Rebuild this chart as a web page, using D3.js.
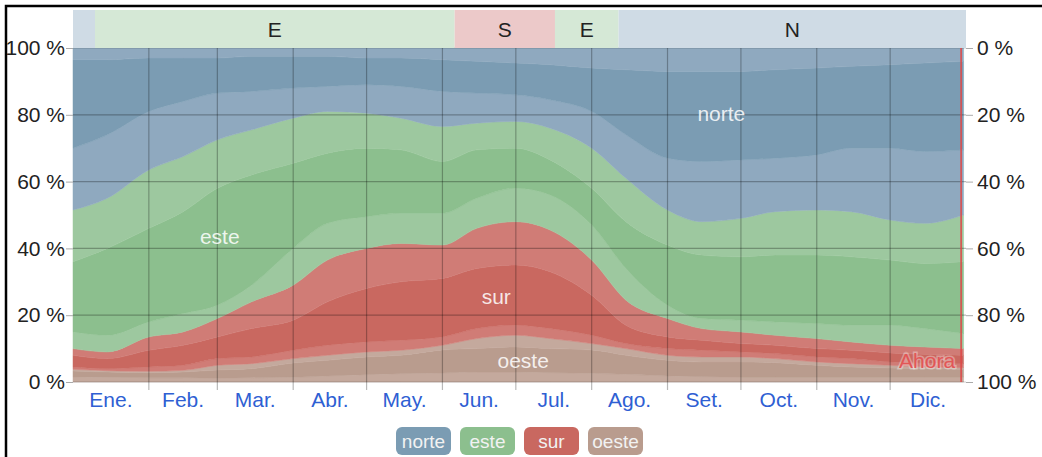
<!DOCTYPE html>
<html>
<head>
<meta charset="utf-8">
<script src="https://cdnjs.cloudflare.com/ajax/libs/d3/7.8.5/d3.min.js"></script>
<style>
  body { margin: 0; background: #fff; }
  svg { display: block; font-family: 'Liberation Sans', Arial, sans-serif; }
</style>
</head>
<body>
<div id="chart"></div>
<script>
// sample days: 1st and 15th of each month, plus Dec 31
const fechas = [
  '2023-01-01','2023-01-15','2023-02-01','2023-02-15','2023-03-01','2023-03-15',
  '2023-04-01','2023-04-15','2023-05-01','2023-05-15','2023-06-01','2023-06-15',
  '2023-07-01','2023-07-15','2023-08-01','2023-08-15','2023-09-01','2023-09-15',
  '2023-10-01','2023-10-15','2023-11-01','2023-11-15','2023-12-01','2023-12-15','2023-12-31'
];

// % of hours per direction (bottom -> top). the intermediate directions
// (NO, SO, SE, NE) are split in a half on each side of the boundary
const noroesteBajo = [1.5,1.4,1.3,1.3,1.2,1.3,1.4,1.8,2.2,2.5,2.7,3,3,2.8,2.6,2.3,1.8,1.6,1.5,1.5,1.5,1.5,1.5,1.5,1.5];
const oeste        = [1.8,1.6,1.5,1.7,2.4,2.7,4.3,4.7,5.3,5.5,6.9,7,7.5,7.2,7,5.7,4.7,4.4,4.5,4.3,3.5,3,2.7,2.5,2.3];
const suroesteO    = [0.5,0.4,0.4,0.5,1.4,1.5,1.3,1.5,1.5,1.5,1.4,3,3.5,3,1.9,2,1.5,1.5,1.5,1.2,1,1,0.8,0.5,0.5];
const suroesteS    = [0.7,0.6,1.3,1.5,2,2,2.5,3,3,3,2.5,3,3,3,2.5,1.5,2,2,1.5,1.5,1.5,1.5,1,1.2,1.2];
const sur          = [3.5,3,5,6,6.5,8.5,9,13,16,17.5,17.5,18,18,17,12,5.5,3.5,3,2.5,2.5,2.5,2.5,2.7,2.6,2.5];
const suresteS     = [2,2,4,4,5.5,8,10.5,12.5,12,11.5,10,12,13,12.5,10.5,7.5,5.5,3.5,3.5,3,3,2.5,2.3,2.2,2];
const suresteE     = [5,5,4.5,5.5,4,5,11,11,9.5,9,9.5,9,10,10.5,10.5,9.5,4,3,3.5,4,4.5,5,6,5.5,4.5];
const este         = [21,26,28,30.5,35,33,25.5,21,20.5,19,15.5,14.5,12,10.5,11,14,18,19,19,20,20.5,20.5,19.5,19.5,21.5];
const noresteE     = [15.5,15,17.5,16.5,14.5,13.5,13.5,12.5,10.5,9.5,10.5,8,8,9.5,12,13,10.5,10,11.5,13,13.5,13.5,12,12,14];
const noresteN     = [18.5,19,17.5,16.5,14,11.5,9,7.5,8.5,9.5,10.5,9,8,8.5,11,13,15.5,18,17.5,16,16.5,19,21.5,21.5,19.5];
const norte        = [26.5,22.5,16,13,10.5,10.5,9.5,9,8,8.5,9.5,9.5,9.5,10.5,13,19.5,26,27,26.5,26.5,26,24.5,25,26.5,26.5];
const noroesteAlto = [3.5,3.5,3,3,3,2.5,2.5,2.5,3,3,3.5,4,4.5,5,6,6.5,7,7,7,6.5,6,5.5,5,4.5,4];

// dominant direction strip on top
const dominante = [
  { desde: '2023-01-01', hasta: '2023-01-10', dir: 'N' },
  { desde: '2023-01-10', hasta: '2023-06-06', dir: 'E' },
  { desde: '2023-06-06', hasta: '2023-07-17', dir: 'S' },
  { desde: '2023-07-17', hasta: '2023-08-12', dir: 'E' },
  { desde: '2023-08-12', hasta: '2024-01-01', dir: 'N' }
];

const meses = ['Ene.','Feb.','Mar.','Abr.','May.','Jun.','Jul.','Ago.','Set.','Oct.','Nov.','Dic.'];
const porcentajes = [0, 20, 40, 60, 80, 100];
const leyenda = ['norte', 'este', 'sur', 'oeste'];
const ahora = '2023-12-30';

// where the big labels sit inside the bands
const etiquetas = [
  { texto: 'norte', fecha: '2023-09-23', valor: 80.5 },
  { texto: 'este',  fecha: '2023-03-02', valor: 43.5 },
  { texto: 'sur',   fecha: '2023-06-23', valor: 25.5 },
  { texto: 'oeste', fecha: '2023-07-04', valor: 6.6 }
];

const Chart = (function() {

  const W = 1042, H = 457;
  const margin = { top: 48, right: 76, bottom: 75, left: 73 };
  const width = W - margin.left - margin.right;
  const height = H - margin.top - margin.bottom;
  const parse = d3.timeParse('%Y-%m-%d');

  const colores = {
    norte: '#7b9cb3', norteClaro: '#8fa9bf',
    este:  '#8cbf8e', esteClaro:  '#9dc89f',
    sur:   '#c96860', surClaro:   '#d07c76',
    oeste: '#b99c8e', oesteClaro: '#c4a99d'
  };
  const franja = { N: '#cfdbe5', E: '#d5e8d6', S: '#ecc9c9' };

  // stack order and the colour of each layer
  const capas = [
    ['noroesteBajo', 'oesteClaro'], ['oeste', 'oeste'], ['suroesteO', 'oesteClaro'],
    ['suroesteS', 'surClaro'], ['sur', 'sur'], ['suresteS', 'surClaro'],
    ['suresteE', 'esteClaro'], ['este', 'este'], ['noresteE', 'esteClaro'],
    ['noresteN', 'norteClaro'], ['norte', 'norte'], ['noroesteAlto', 'norteClaro']
  ];
  const series = { noroesteBajo, oeste, suroesteO, suroesteS, sur, suresteS,
                   suresteE, este, noresteE, noresteN, norte, noroesteAlto };

  let svg, g, x, y, yDer;

  function init() {
    const rows = fechas.map((f, i) => {
      const r = { fecha: parse(f) };
      capas.forEach(c => r[c[0]] = series[c[0]][i]);
      return r;
    });

    x = d3.scaleTime().domain([parse('2023-01-01'), parse('2024-01-01')]).range([0, width]);
    y = d3.scaleLinear().domain([0, 100]).range([height, 0]);
    yDer = d3.scaleLinear().domain([100, 0]).range([height, 0]);

    svg = d3.select('#chart').append('svg').attr('width', W).attr('height', H);
    g = svg.append('g').attr('transform', 'translate(' + margin.left + ',' + margin.top + ')');

    // top strip with the dominant direction
    const tira = svg.append('g').attr('transform', 'translate(' + margin.left + ',10)');
    tira.selectAll('rect').data(dominante).enter().append('rect')
      .attr('x', d => x(parse(d.desde)))
      .attr('width', d => x(parse(d.hasta)) - x(parse(d.desde)))
      .attr('height', margin.top - 10)
      .attr('fill', d => franja[d.dir]);
    tira.selectAll('text').data(dominante.filter(d => x(parse(d.hasta)) - x(parse(d.desde)) > 40))
      .enter().append('text')
      .attr('x', d => (x(parse(d.desde)) + x(parse(d.hasta))) / 2)
      .attr('y', 19)
      .attr('dy', '0.36em')
      .attr('text-anchor', 'middle')
      .attr('font-size', 21)
      .attr('fill', '#222')
      .text(d => d.dir);

    // stacked bands
    const stack = d3.stack().keys(capas.map(c => c[0]));
    const area = d3.area()
      .x(d => x(d.data.fecha))
      .y0(d => y(d[0]))
      .y1(d => y(d[1]))
      .curve(d3.curveMonotoneX);

    g.selectAll('path.capa').data(stack(rows)).enter().append('path')
      .classed('capa', true)
      .attr('d', area)
      .attr('fill', (d, i) => colores[capas[i][1]])
      .attr('stroke', (d, i) => colores[capas[i][1]])
      .attr('stroke-width', 0.5);

    // grid on top of the areas
    const interiores = d3.timeMonth.range(parse('2023-02-01'), parse('2024-01-01'));
    g.selectAll('line.vgrid').data(interiores).enter().append('line')
      .attr('x1', d => x(d)).attr('x2', d => x(d))
      .attr('y1', 0).attr('y2', height + 8)
      .attr('stroke', 'rgba(0,0,0,0.28)').attr('stroke-width', 1.2);
    g.selectAll('line.hgrid').data(porcentajes).enter().append('line')
      .attr('x1', 0).attr('x2', width)
      .attr('y1', d => y(d)).attr('y2', d => y(d))
      .attr('stroke', d => (d === 0 || d === 100) ? 'rgba(0,0,0,0.18)' : 'rgba(0,0,0,0.28)')
      .attr('stroke-width', 1.2);

    // left and right axes
    const yAxis = d3.axisLeft(y).tickValues(porcentajes).tickFormat(d => d + ' %').tickSize(7).tickPadding(1);
    const yAxisDer = d3.axisRight(yDer).tickValues(porcentajes).tickFormat(d => d + ' %').tickSize(7).tickPadding(4);
    g.append('g').call(yAxis);
    g.append('g').attr('transform', 'translate(' + width + ',0)').call(yAxisDer);
    g.selectAll('.domain').remove();
    g.selectAll('.tick line').attr('stroke', '#aaa');
    g.selectAll('.tick text').attr('font-size', 21).attr('fill', '#222')
      .attr('font-family', "'Liberation Sans', Arial, sans-serif");

    // month names centred in each month
    g.selectAll('text.mes').data(meses).enter().append('text')
      .classed('mes', true)
      .attr('x', (d, i) => (x(new Date(2023, i, 1)) + x(new Date(2023, i + 1, 1))) / 2)
      .attr('y', height + 25)
      .attr('text-anchor', 'middle')
      .attr('font-size', 21)
      .attr('fill', '#2f5fd3')
      .text(d => d);

    // band labels
    g.selectAll('text.etiqueta').data(etiquetas).enter().append('text')
      .attr('x', d => x(parse(d.fecha)))
      .attr('y', d => y(d.valor))
      .attr('dy', '0.36em')
      .attr('text-anchor', 'middle')
      .attr('font-size', 21)
      .attr('fill', 'rgba(255,255,255,0.85)')
      .text(d => d.texto);

    // "now" marker
    const xa = x(parse(ahora));
    g.append('line')
      .attr('x1', xa).attr('x2', xa).attr('y1', 0).attr('y2', height)
      .attr('stroke', '#e04848').attr('stroke-width', 1.5);
    g.append('text')
      .attr('x', xa - 6).attr('y', y(4.3))
      .attr('text-anchor', 'end')
      .attr('font-size', 21)
      .attr('fill', '#e25656')
      .attr('stroke', 'rgba(255,255,255,0.35)').attr('stroke-width', 3)
      .attr('paint-order', 'stroke')
      .text('Ahora');

    // legend
    const bw = 55, gap = 9;
    const lx = margin.left + width / 2 - (leyenda.length * bw + (leyenda.length - 1) * gap) / 2;
    const ley = svg.append('g').attr('transform', 'translate(' + lx + ',427)');
    const item = ley.selectAll('g').data(leyenda).enter().append('g')
      .attr('transform', (d, i) => 'translate(' + i * (bw + gap) + ',0)');
    item.append('rect')
      .attr('width', bw).attr('height', 28).attr('rx', 6)
      .attr('fill', d => colores[d]);
    item.append('text')
      .attr('x', bw / 2).attr('y', 14).attr('dy', '0.36em')
      .attr('text-anchor', 'middle')
      .attr('font-size', 19)
      .attr('fill', '#f2f2f2')
      .text(d => d);

    // frame (cut off on the right and bottom like the screenshot)
    svg.append('rect')
      .attr('x', 6).attr('y', 6).attr('width', W + 20).attr('height', H + 20)
      .attr('fill', 'none').attr('stroke', '#000').attr('stroke-width', 2.5);
  }

  init();
})();
</script>
</body>
</html>
